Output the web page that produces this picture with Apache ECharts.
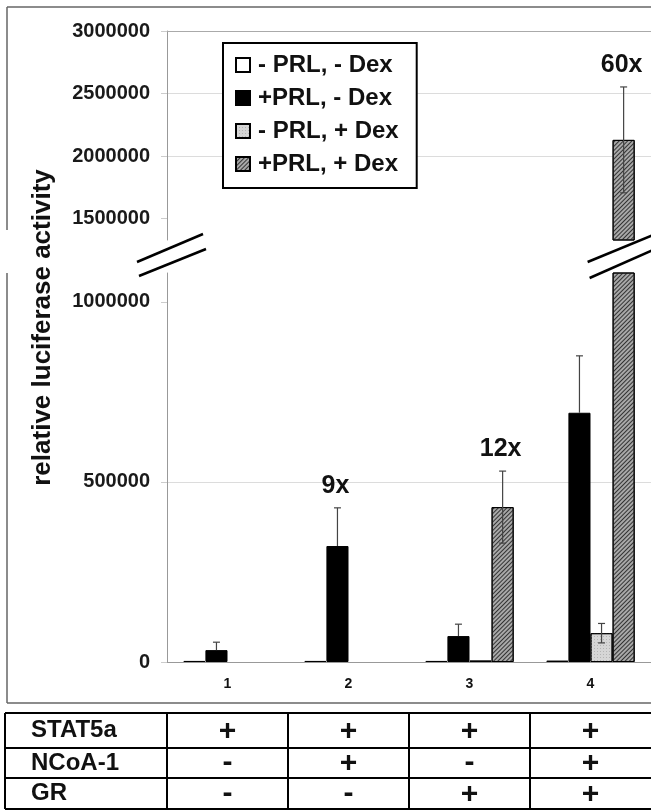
<!DOCTYPE html>
<html>
<head>
<meta charset="utf-8">
<script src="https://cdn.jsdelivr.net/npm/echarts@6/dist/echarts.min.js"></script>
<style>html,body{margin:0;padding:0;background:#fff;}#c{width:651px;height:811px;}</style>
</head>
<body>
<div id="c"></div>
<script>
// ---- data ----
const categories = ['1', '2', '3', '4'];
const seriesNames = ['- PRL, - Dex', '+PRL, - Dex', '- PRL, + Dex', '+PRL, + Dex'];
const valNoPrlNoDex = [3000, 3000, 3000, 4000];
const errNoPrlNoDex = [0, 0, 0, 0];
const valPrlNoDex = [33000, 322000, 72000, 692000];
const errPrlNoDex = [22000, 106000, 33000, 158000];
const valNoPrlDex = [null, null, 4000, 80000];
const errNoPrlDex = [null, null, 0, 27000];
const valPrlDex = [null, null, 430000, 2130000];
const errPrlDex = [null, null, 100000, 423000];
const foldLabels = ['', '9x', '12x', '60x'];
const foldSeries = [-1, 1, 3, 3];
const lowerTickValues = [0, 500000, 1000000];
const upperTickValues = [1500000, 2000000, 2500000, 3000000];
const lowerMax = 1080000;
const upperMin = 1330000;
const upperMax = 3000000;
const tableRows = ['STAT5a', 'NCoA-1', 'GR'];
const tableSTAT5a = ['+', '+', '+', '+'];
const tableNCoA1 = ['-', '+', '-', '+'];
const tableGR = ['-', '-', '+', '+'];
const yTitle = 'relative luciferase activity';

// ---- styles ----
const FONT = '"Liberation Sans", Arial, sans-serif';
const allVals = [valNoPrlNoDex, valPrlNoDex, valNoPrlDex, valPrlDex];
const allErrs = [errNoPrlNoDex, errPrlNoDex, errNoPrlDex, errPrlDex];
const itemStyles = [
  { color: '#ffffff', borderColor: '#000', borderWidth: 1 },
  { color: '#000000', borderColor: '#000', borderWidth: 1 },
  { color: '#d6d6d6', borderColor: '#000', borderWidth: 1,
    decal: { symbol: 'rect', symbolSize: 1, dashArrayX: [1, 2], dashArrayY: [1, 2], color: '#b4b4b4' } },
  { color: '#a8a8a8', borderColor: '#000', borderWidth: 1,
    decal: { symbol: 'rect', symbolSize: 1, dashArrayX: [1, 0], dashArrayY: [1, 1.6], rotation: -Math.PI / 4, color: '#333' } }
];
const CAT_GAP = 0.27;

function errRender(params, api) {
  const cat = api.value(0), v = api.value(1), e = api.value(2), s = api.value(3);
  const band = api.size([1, 0])[0];
  const total = band * (1 - CAT_GAP);
  const bw = total / 4;
  const c = api.coord([cat, v]);
  const x = c[0] - total / 2 + (s + 0.5) * bw;
  const top = api.coord([cat, v + e])[1];
  const bot = s === 1 ? c[1] : api.coord([cat, v - e])[1];
  const st = { stroke: '#444', lineWidth: 1.2 };
  const children = [];
  if (e > 0) {
    children.push({ type: 'line', shape: { x1: x, y1: top, x2: x, y2: bot }, style: st });
    children.push({ type: 'line', shape: { x1: x - 3.5, y1: top, x2: x + 3.5, y2: top }, style: st });
    if (s !== 1) children.push({ type: 'line', shape: { x1: x - 3.5, y1: bot, x2: x + 3.5, y2: bot }, style: st });
  }
  if (foldSeries[cat] === s && foldLabels[cat]) {
    children.push({ type: 'text', x: x - 2, y: top - 22,
      style: { text: foldLabels[cat], font: 'bold 25px ' + FONT, fill: '#111', align: 'center', verticalAlign: 'middle' } });
  }
  return { type: 'group', children: children };
}

const lowerErr = [], upperErr = [];
for (let s = 0; s < 4; s++) {
  for (let i = 0; i < categories.length; i++) {
    const v = allVals[s][i];
    if (v == null) continue;
    const item = [i, v, allErrs[s][i] || 0, s];
    if (v > lowerMax) upperErr.push(item); else lowerErr.push(item);
  }
}

const series = [];
for (let s = 0; s < 4; s++) {
  series.push({
    name: seriesNames[s], type: 'bar', xAxisIndex: 0, yAxisIndex: 0,
    barGap: '0%', barCategoryGap: (CAT_GAP * 100) + '%',
    data: allVals[s].map(v => v == null ? '-' : v),
    itemStyle: itemStyles[s], emphasis: { disabled: true }, clip: true
  });
}
for (let s = 0; s < 4; s++) {
  series.push({
    name: seriesNames[s], type: 'bar', xAxisIndex: 1, yAxisIndex: 1,
    barGap: '0%', barCategoryGap: (CAT_GAP * 100) + '%',
    data: allVals[s].map(v => (v != null && v > lowerMax) ? v : '-'),
    itemStyle: itemStyles[s], emphasis: { disabled: true }, clip: true
  });
}
series.push({ type: 'custom', xAxisIndex: 0, yAxisIndex: 0, renderItem: errRender, data: lowerErr, encode: { x: 0, y: 1 }, z: 5, silent: true });
series.push({ type: 'custom', xAxisIndex: 1, yAxisIndex: 1, renderItem: errRender, data: upperErr, encode: { x: 0, y: 1 }, z: 5, silent: true });

const GRID_LEFT = 167;
const yLabel = { fontFamily: FONT, fontWeight: 'bold', fontSize: 20, color: '#1a1a1a', margin: 17, formatter: v => String(v) };

const option = {
  animation: false,
  backgroundColor: '#fff',
  legend: {
    data: seriesNames, orient: 'vertical', left: 223, top: 43,
    backgroundColor: '#fff', borderColor: '#000', borderWidth: 2,
    padding: [10, 18, 12, 12], itemGap: 9, itemWidth: 14, itemHeight: 14,
    selectedMode: false, icon: 'rect',
    textStyle: { fontFamily: FONT, fontWeight: 'bold', fontSize: 24, color: '#111', lineHeight: 24, padding: [0, 0, 0, 3] },
    z: 10
  },
  grid: [
    { left: GRID_LEFT, right: 0, top: 273, bottom: 149 },
    { left: GRID_LEFT, right: 0, top: 31, bottom: 571 }
  ],
  xAxis: [
    { type: 'category', gridIndex: 0, data: categories,
      axisLine: { lineStyle: { color: '#999', width: 1 } }, axisTick: { show: false },
      axisLabel: { fontFamily: FONT, fontWeight: 'bold', fontSize: 14, color: '#111', margin: 15 } },
    { type: 'category', gridIndex: 1, data: categories, position: 'top',
      axisLine: { lineStyle: { color: '#aaa', width: 1 } }, axisTick: { show: false }, axisLabel: { show: false } }
  ],
  yAxis: [
    { type: 'value', gridIndex: 0, min: 0, max: lowerMax, minInterval: 500000, maxInterval: 500000,
      axisLine: { show: true, lineStyle: { color: '#999' } },
      axisTick: { show: true, length: 6, lineStyle: { color: '#ccc' }, customValues: lowerTickValues },
      axisLabel: Object.assign({ customValues: lowerTickValues }, yLabel),
      splitLine: { show: true, showMinLine: false, showMaxLine: false, lineStyle: { color: '#dcdcdc' } } },
    { type: 'value', gridIndex: 1, min: upperMin, max: upperMax, minInterval: 500000, maxInterval: 500000,
      axisLine: { show: true, lineStyle: { color: '#999' } },
      axisTick: { show: true, length: 6, lineStyle: { color: '#ccc' }, customValues: upperTickValues },
      axisLabel: Object.assign({ customValues: upperTickValues }, yLabel),
      splitLine: { show: true, showMinLine: false, showMaxLine: false, lineStyle: { color: '#dcdcdc' } } }
  ],
  series: series
};

const chart = echarts.init(document.getElementById('c'), null, { renderer: 'canvas' });
chart.setOption(option);

// ---- decorations (frame, axis break marks, y title, condition table) ----
const centers = categories.map(c => chart.convertToPixel({ xAxisIndex: 0 }, c));
const band = centers.length > 1 ? centers[1] - centers[0] : 120;
const yZero = chart.convertToPixel({ yAxisIndex: 0 }, 0);
const yLowTop = chart.convertToPixel({ yAxisIndex: 0 }, lowerMax);
const yUpTop = chart.convertToPixel({ yAxisIndex: 1 }, upperMax);
const W = 651;
const g = [];
const frame = { stroke: '#666', lineWidth: 1.5 };
g.push({ type: 'line', shape: { x1: 7, y1: 7, x2: W, y2: 7 }, style: frame });
g.push({ type: 'line', shape: { x1: 7, y1: 7, x2: 7, y2: 230 }, style: frame });
g.push({ type: 'line', shape: { x1: 7, y1: yLowTop, x2: 7, y2: 703 }, style: frame });
g.push({ type: 'line', shape: { x1: 7, y1: 703, x2: W, y2: 703 }, style: frame });
// break marks
const brk = { stroke: '#000', lineWidth: 2.5 };
const axX = GRID_LEFT;
g.push({ type: 'line', shape: { x1: axX - 30, y1: 262, x2: axX + 36, y2: 234 }, style: brk, z: 20 });
g.push({ type: 'line', shape: { x1: axX - 28, y1: 276, x2: axX + 39, y2: 249 }, style: brk, z: 20 });
const rx = centers[3] + band * (1 - CAT_GAP) * 3 / 8;
g.push({ type: 'line', shape: { x1: rx - 36, y1: 262, x2: W + 2, y2: 235 }, style: brk, z: 20 });
g.push({ type: 'line', shape: { x1: rx - 34, y1: 278, x2: W + 2, y2: 250 }, style: brk, z: 20 });
// y title
g.push({ type: 'text', x: 43, y: (yUpTop + yZero) / 2 - 19, rotation: Math.PI / 2,
  style: { text: yTitle, font: 'bold 26px ' + FONT, fill: '#111', align: 'center', verticalAlign: 'middle' } });
// table
const rowLines = [713, 748, 778, 809];
const tLine = { stroke: '#000', lineWidth: 2 };
rowLines.forEach(y => g.push({ type: 'line', shape: { x1: 5, y1: y, x2: W, y2: y }, style: tLine }));
const colLines = [5].concat(centers.map(c => c - band / 2));
colLines.forEach(x => g.push({ type: 'line', shape: { x1: x, y1: rowLines[0], x2: x, y2: rowLines[3] }, style: tLine }));
const tableData = [tableSTAT5a, tableNCoA1, tableGR];
tableRows.forEach((name, r) => {
  const cy = (rowLines[r] + rowLines[r + 1]) / 2;
  g.push({ type: 'text', x: 31, y: cy, style: { text: name, font: 'bold 24px ' + FONT, fill: '#111', align: 'left', verticalAlign: 'middle' } });
  tableData[r].forEach((sign, i) => {
    g.push({ type: 'text', x: centers[i], y: cy + (sign === '-' ? 0 : 1),
      style: { text: sign, font: 'bold 30px ' + FONT, fill: '#111', align: 'center', verticalAlign: 'middle' } });
  });
});
chart.setOption({ graphic: g });
</script>
</body>
</html>
